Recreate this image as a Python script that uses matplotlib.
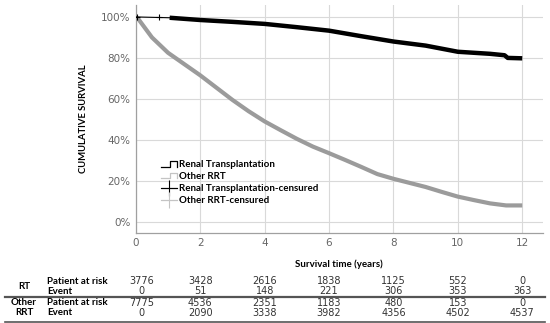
import matplotlib.pyplot as plt
from matplotlib.lines import Line2D
from matplotlib.legend_handler import HandlerBase
import matplotlib.transforms as mtransforms

# --- Data ---
RT_TIME = [0, 1.05, 2, 3, 4, 5, 6, 7, 8, 9, 10, 11, 11.45, 11.55, 12]
RT_SURV = [100, 99.6, 98.5, 97.6, 96.6, 95.0, 93.3, 90.6, 88.0, 86.0, 83.0, 82.0, 81.3, 80.0, 79.8]
RT_CENSOR_TIME = [0.05, 0.72]

OTHER_TIME = [0, 0.1, 0.5, 1, 1.5, 2, 2.5, 3, 3.5, 4, 4.5, 5, 5.5, 6, 6.5,
              7, 7.5, 8, 8.5, 9, 9.5, 10, 10.5, 11, 11.5, 12]
OTHER_SURV = [100, 98.5, 90, 82.5, 77, 71.5, 65.5, 59.5, 54, 49, 44.7, 40.5,
              36.7, 33.5, 30.2, 26.8, 23.3, 21, 19, 17, 14.6, 12.3, 10.6, 9.0, 8.0, 8.0]

TABLE_TIMES = [0, 2, 4, 6, 8, 10, 12]
RT_AT_RISK = [3776, 3428, 2616, 1838, 1125, 552, 0]
RT_EVENT = [0, 51, 148, 221, 306, 353, 363]
OTHER_AT_RISK = [7775, 4536, 2351, 1183, 480, 153, 0]
OTHER_EVENT = [0, 2090, 3338, 3982, 4356, 4502, 4537]

Y_TICKS = [0, 20, 40, 60, 80, 100]
X_TICKS = [0, 2, 4, 6, 8, 10, 12]

BLACK = '#000000'
GREY = '#9b9b9b'
LIGHT = '#c4c4c4'
TICK_COLOR = '#666666'
BOLD_FONT = 'Lato'


class StepHandler(HandlerBase):
    """Draws the little step icon used in SPSS survival legends."""
    def create_artists(self, legend, orig_handle, xdescent, ydescent,
                       width, height, fontsize, trans):
        x0, x1 = -xdescent, -xdescent + width
        xm = x0 + width * 0.55
        y0, y1 = -ydescent + height * 0.1, -ydescent + height * 0.95
        line = Line2D([x0, xm, xm, x1, x1], [y0, y0, y1, y1, y0],
                      color=orig_handle.get_color(), lw=0.9, transform=trans)
        return [line]


fig = plt.figure(figsize=(5.5, 3.23), dpi=100)
ax = fig.add_axes([0.247, 0.279, 0.74, 0.706])

ax.plot(OTHER_TIME, OTHER_SURV, color=GREY, lw=3.0, solid_capstyle='butt', zorder=3)
ax.plot(RT_TIME[:2], RT_SURV[:2], color=BLACK, lw=0.8, zorder=4)
ax.plot(RT_TIME[1:], RT_SURV[1:], color=BLACK, lw=3.2, solid_capstyle='butt', zorder=4)
ax.plot(RT_CENSOR_TIME, [100] * len(RT_CENSOR_TIME), linestyle='none',
        marker='+', markersize=5, color=BLACK, mew=0.8, zorder=5)

ax.set_xlim(0, 12.64)
ax.set_ylim(-5.4, 105.9)
ax.set_xticks(X_TICKS)
ax.set_yticks(Y_TICKS)
ax.set_yticklabels([f"{v}%" for v in Y_TICKS])
ax.tick_params(length=0, labelsize=7.5, labelcolor=TICK_COLOR, pad=4)
ax.grid(True, color='#d9d9d9', lw=0.8)
ax.set_axisbelow(True)
for side in ['top', 'right']:
    ax.spines[side].set_visible(False)
for side in ['left', 'bottom']:
    ax.spines[side].set_color('#a0a0a0')
    ax.spines[side].set_linewidth(0.9)

ax.set_xlabel("Survival time (years)", fontsize=7, fontweight='bold',
              family=BOLD_FONT, labelpad=8)
ax.set_ylabel("CUMULATIVE SURVIVAL", fontsize=6.8, fontweight='bold',
              family=BOLD_FONT, labelpad=9)

handles = [
    Line2D([], [], color=BLACK),
    Line2D([], [], color=LIGHT),
    Line2D([], [], color=BLACK, marker='+', markersize=11, mew=0.8, lw=0.8),
    Line2D([], [], color=LIGHT, marker='+', markersize=11, mew=0.8, lw=0.8),
]
labels = ["Renal Transplantation", "Other RRT",
          "Renal Transplantation-censured", "Other RRT-censured"]
ax.legend(handles, labels, loc='upper left', bbox_to_anchor=(0.05, 0.34),
          frameon=False, prop={'weight': 'bold', 'size': 7, 'family': BOLD_FONT},
          handlelength=1.6, handletextpad=0.25, labelspacing=0.3,
          borderpad=0, handler_map={handles[0]: StepHandler(), handles[1]: StepHandler()})

# --- number-at-risk table under the plot ---
trans = mtransforms.blended_transform_factory(ax.transData, fig.transFigure)


def fy(px):
    return 1 - px / 323


rows = [
    (RT_AT_RISK, 281.5), (RT_EVENT, 291.5),
    (OTHER_AT_RISK, 302.5), (OTHER_EVENT, 312.5),
]
for values, ypx in rows:
    for t, v in zip(TABLE_TIMES, values):
        xoff = 0.18 if t == 0 else 0
        ax.text(t + xoff, fy(ypx), str(v), transform=trans, ha='center',
                va='center', fontsize=7, color='#333333', clip_on=False)

label_font = dict(fontsize=7, fontweight='bold', family=BOLD_FONT, va='center')
fig.text(47 / 550, fy(281.5), "Patient at risk", **label_font)
fig.text(47 / 550, fy(291.5), "Event", **label_font)
fig.text(47 / 550, fy(302.5), "Patient at risk", **label_font)
fig.text(47 / 550, fy(312.5), "Event", **label_font)
fig.text(24 / 550, fy(286.5), "RT", ha='center', **label_font)
fig.text(24 / 550, fy(302.5), "Other", ha='center', **label_font)
fig.text(24 / 550, fy(312.5), "RRT", ha='center', **label_font)

fig.add_artist(Line2D([5 / 550, 545 / 550], [fy(297.3)] * 2, color='#555555', lw=1.6))
fig.add_artist(Line2D([5 / 550, 545 / 550], [fy(321.5)] * 2, color='#555555', lw=1.2))

fig.savefig("out.png", dpi=100)
